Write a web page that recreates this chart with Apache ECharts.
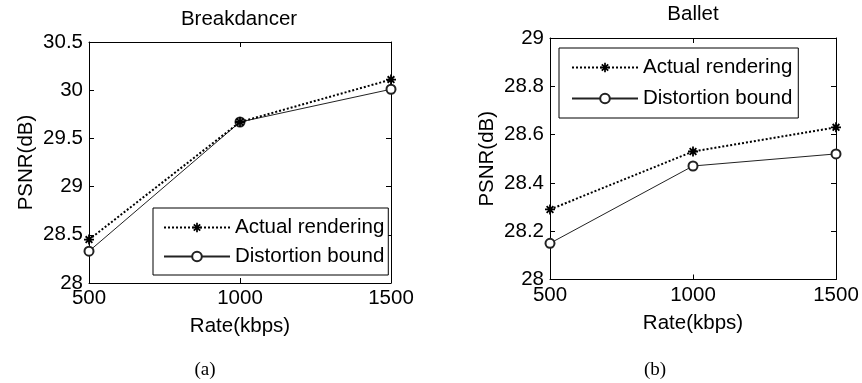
<!DOCTYPE html>
<html>
<head>
<meta charset="utf-8">
<script src="https://cdn.jsdelivr.net/npm/echarts@6/dist/echarts.min.js"></script>
<style>
html,body{margin:0;padding:0;background:#fff;}
#main{width:862px;height:383px;}
</style>
</head>
<body>
<div id="main"></div>
<script>
// ---- data ----
const rates = [500, 1000, 1500];
const breakActual = [28.45, 29.67, 30.11];
const breakBound  = [28.33, 29.67, 30.01];
const balletActual = [28.29, 28.53, 28.63];
const balletBound  = [28.15, 28.47, 28.52];
const titles = ['Breakdancer', 'Ballet'];
const subLabels = ['(a)', '(b)'];
const seriesNames = ['Actual rendering', 'Distortion bound'];
const xLabel = 'Rate(kbps)';
const yLabel = 'PSNR(dB)';

const FONT = 'Liberation Sans, Arial, Helvetica, sans-serif';
const FS = 20.5;
const STAR = 'path://M0,4.1L10,4.1L10,5.9L0,5.9Z M4.1,0L5.9,0L5.9,10L4.1,10Z M1,2.3L2.3,1L9,7.7L7.7,9Z M7.7,1L9,2.3L2.3,9L1,7.7Z';

const pairs = arr => rates.map((r, i) => [r, arr[i]]);

const grids = [
  {left: 89, top: 42, width: 302, height: 241},
  {left: 550, top: 38, width: 286, height: 241.5}
];
const yRanges = [
  {min: 28, max: 30.5, interval: 0.5},
  {min: 28, max: 29, interval: 0.2}
];

const xAxes = [], yAxes = [];
grids.forEach((g, gi) => {
  const common = {
    gridIndex: gi,
    axisLine: {show: true, onZero: false, lineStyle: {color: '#000', width: 1}},
    axisTick: {show: true, inside: true, length: 5, lineStyle: {color: '#000'}},
    splitLine: {show: false}
  };
  xAxes.push(Object.assign({}, common, {
    type: 'value', position: 'bottom', min: 500, max: 1500, interval: 500,
    axisLabel: {color: '#000', fontFamily: FONT, fontSize: FS, margin: 5, formatter: v => String(v)},
    name: xLabel, nameLocation: 'middle', nameGap: 33,
    nameTextStyle: {color: '#000', fontFamily: FONT, fontSize: FS}
  }));
  xAxes.push(Object.assign({}, common, {
    type: 'value', position: 'top', min: 500, max: 1500, interval: 500,
    axisLabel: {show: false}
  }));
  yAxes.push(Object.assign({}, common, {
    type: 'value', position: 'left', min: yRanges[gi].min, max: yRanges[gi].max, interval: yRanges[gi].interval,
    axisLabel: {color: '#000', fontFamily: FONT, fontSize: FS, margin: 6, formatter: v => String(+v.toFixed(2))},
    name: yLabel, nameLocation: 'middle', nameGap: 52,
    nameTextStyle: {color: '#000', fontFamily: FONT, fontSize: FS}
  }));
  yAxes.push(Object.assign({}, common, {
    type: 'value', position: 'right', min: yRanges[gi].min, max: yRanges[gi].max, interval: yRanges[gi].interval,
    axisLabel: {show: false}
  }));
});

const dataSets = [[breakActual, breakBound], [balletActual, balletBound]];
const series = [];
dataSets.forEach((ds, gi) => {
  series.push({
    name: seriesNames[1], type: 'line', xAxisIndex: gi * 2, yAxisIndex: gi * 2,
    data: pairs(ds[1]), symbol: 'emptyCircle', symbolSize: 9,
    lineStyle: {color: '#222', width: 1, type: 'solid'},
    itemStyle: {color: '#222', borderColor: '#222', borderWidth: 1},
    animation: false, z: 2
  });
  series.push({
    name: seriesNames[0], type: 'line', xAxisIndex: gi * 2, yAxisIndex: gi * 2,
    data: pairs(ds[0]), symbol: STAR, symbolSize: 10,
    lineStyle: {color: '#000', width: 2, type: [2, 2]},
    itemStyle: {color: '#000'},
    animation: false, z: 3
  });
});

const legendBase = {
  orient: 'vertical', data: seriesNames, itemWidth: 66, itemHeight: 12,
  borderColor: '#000', borderWidth: 1, borderRadius: 0, backgroundColor: '#fff',
  textStyle: {color: '#000', fontFamily: FONT, fontSize: FS, lineHeight: 20},
  selectedMode: false
};
const legends = [
  Object.assign({}, legendBase, {left: 153, top: 208, padding: [9, 4, 8, 10], itemGap: 8}),
  Object.assign({}, legendBase, {left: 559, top: 48, padding: [9, 6, 9, 12], itemGap: 10})
];

const graphic = [
  {type: 'text', x: 239, y: 19.5, style: {text: titles[0], fill: '#000', font: FS + 'px ' + FONT, align: 'center', verticalAlign: 'middle'}},
  {type: 'text', x: 693, y: 14.5, style: {text: titles[1], fill: '#000', font: FS + 'px ' + FONT, align: 'center', verticalAlign: 'middle'}},
  {type: 'text', x: 205, y: 370, style: {text: subLabels[0], fill: '#000', font: '19px Liberation Serif, Times New Roman, serif', align: 'center', verticalAlign: 'middle'}},
  {type: 'text', x: 655, y: 370, style: {text: subLabels[1], fill: '#000', font: '19px Liberation Serif, Times New Roman, serif', align: 'center', verticalAlign: 'middle'}}
];

const chart = echarts.init(document.getElementById('main'), null, {renderer: 'canvas'});
chart.setOption({
  animation: false,
  backgroundColor: '#fff',
  grid: grids,
  xAxis: xAxes,
  yAxis: yAxes,
  legend: legends,
  series: series,
  graphic: graphic
});
</script>
</body>
</html>
